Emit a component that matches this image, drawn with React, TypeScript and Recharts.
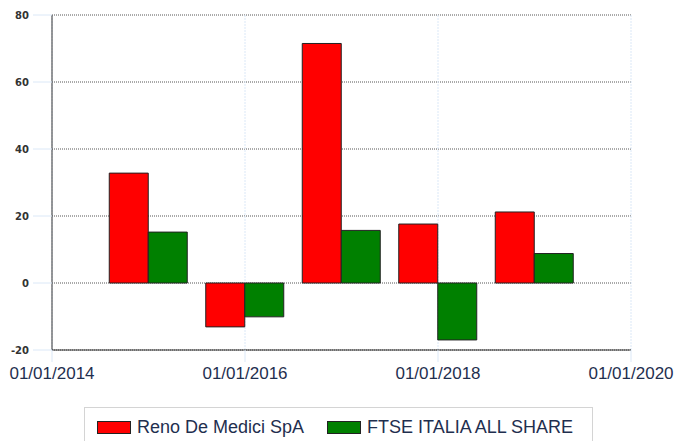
import { BarChart, Bar, XAxis, YAxis, CartesianGrid } from "recharts";

const years = [2015, 2016, 2017, 2018, 2019];
const renoValues = [32.8, -13.1, 71.5, 17.6, 21.2];
const ftseValues = [15.2, -10.1, 15.7, -17.0, 8.8];
const xTicks = [2014, 2016, 2018, 2020];
const yTicks = [-20, 0, 20, 40, 60, 80];

const series = [
  { key: "reno", name: "Reno De Medici SpA", color: "#ff0000" },
  { key: "ftse", name: "FTSE ITALIA ALL SHARE", color: "#008000" },
];

const data = years.map((year, i) => ({
  year,
  reno: renoValues[i],
  ftse: ftseValues[i],
}));

const lightBlue = "#dbe8f7";

export default function App() {
  return (
    <div
      style={{
        position: "absolute",
        left: 0,
        top: 0,
        width: 675,
        height: 441,
        overflow: "hidden",
        background: "#fff",
      }}
    >
      <BarChart
        width={675}
        height={441}
        data={data}
        margin={{ top: 15, right: 44, left: 0, bottom: 91 - 30 }}
        barGap={0}
        barSize={39}
      >
        <CartesianGrid
          vertical={false}
          stroke="#555"
          strokeDasharray="1 1"
        />
        <CartesianGrid
          horizontal={false}
          stroke={lightBlue}
          strokeDasharray="2 1"
        />
        <XAxis
          dataKey="year"
          type="number"
          domain={[2014, 2020]}
          ticks={xTicks}
          tickFormatter={(v: number) => `01/01/${v}`}
          height={30}
          tickSize={12}
          tickMargin={5}
          axisLine={{ stroke: "#333" }}
          tickLine={{ stroke: lightBlue }}
          tick={{
            fill: "#1f2f4f",
            fontSize: 17,
            fontFamily: "Liberation Sans, Arial, sans-serif",
          }}
          interval={0}
        />
        <YAxis
          domain={[-20, 80]}
          ticks={yTicks}
          width={52}
          tickSize={19}
          tickMargin={4}
          axisLine={{ stroke: "#333" }}
          tickLine={{ stroke: lightBlue }}
          tick={{
            fill: "#333",
            fontSize: 10,
            fontWeight: "bold",
            fontFamily: "DejaVu Sans, sans-serif",
          }}
          interval={0}
        />
        {series.map((s) => (
          <Bar
            key={s.key}
            dataKey={s.key}
            name={s.name}
            fill={s.color}
            stroke="#222"
            strokeWidth={1}
            isAnimationActive={false}
          />
        ))}
      </BarChart>
      <div
        style={{
          position: "absolute",
          left: 84,
          top: 407,
          width: 507,
          height: 60,
          border: "1px solid #d4d4d4",
          fontFamily: "Liberation Sans, Arial, sans-serif",
          fontSize: 18,
          color: "#1f2f4f",
        }}
      >
        {series.map((s, i) => (
          <div
            key={s.key}
            style={{
              position: "absolute",
              left: i === 0 ? 12 : 242,
              top: 9,
              display: "flex",
              alignItems: "center",
              whiteSpace: "nowrap",
            }}
          >
            <span
              style={{
                display: "inline-block",
                width: 32,
                height: 11,
                background: s.color,
                border: "1px solid #222",
                marginRight: 6,
              }}
            />
            <span>{s.name}</span>
          </div>
        ))}
      </div>
    </div>
  );
}
